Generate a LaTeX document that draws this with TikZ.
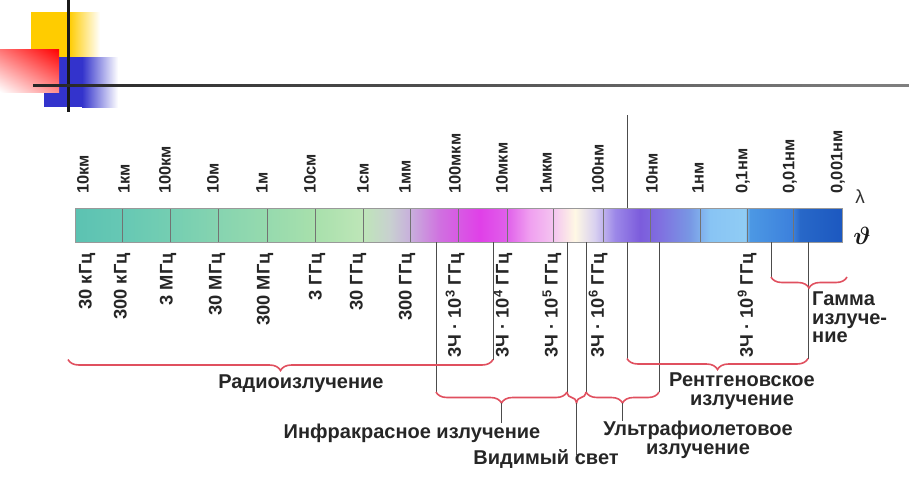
\documentclass[tikz,border=0pt]{standalone}
\usepackage{bm}
\usepackage{fontspec}
\setmainfont{Liberation Sans}
\usepackage{tikz}
\usetikzlibrary{
  positioning, calc, shadings, decorations.pathreplacing
}
\definecolor{decoYellow}{HTML}{FFCC00}
\definecolor{decoBlue}{HTML}{3333CC}
\definecolor{braceRed}{HTML}{E0505F}
% colour stops of the spectrum bar (named by x)
\definecolor{sp75}{HTML}{5CC2B2}
\definecolor{sp122}{HTML}{66C8B4}
\definecolor{sp170}{HTML}{74CEB2}
\definecolor{sp218}{HTML}{86D4B0}
\definecolor{sp267}{HTML}{96DAAE}
\definecolor{sp315}{HTML}{A8E0AC}
\definecolor{sp363}{HTML}{BEE6B8}
\definecolor{sp390}{HTML}{C8D0D0}
\definecolor{sp410}{HTML}{C8B0DC}
\definecolor{sp440}{HTML}{D070E0}
\definecolor{sp480}{HTML}{E040E8}
\definecolor{sp507}{HTML}{E060EA}
\definecolor{sp530}{HTML}{F0A0F0}
\definecolor{sp553}{HTML}{F4C4F0}
\definecolor{sp575}{HTML}{FFF8E4}
\definecolor{sp595}{HTML}{D8D0F0}
\definecolor{sp615}{HTML}{9C88E8}
\definecolor{sp640}{HTML}{7C5CDC}
\definecolor{sp660}{HTML}{8070E0}
\definecolor{sp690}{HTML}{7898E4}
\definecolor{sp710}{HTML}{88C4F4}
\definecolor{sp745}{HTML}{90CCF4}
\definecolor{sp750}{HTML}{4C98E4}
\definecolor{sp793}{HTML}{3C80DC}
\definecolor{sp800}{HTML}{2868C8}
\definecolor{sp842}{HTML}{1C58C0}
\tikzset{
	lamtext/.style={font=\fontsize{16.5}{18}\selectfont\bfseries, text=black!85, rotate=90, anchor=west, inner sep=0pt}
}
\tikzset{
	freqtext/.style={font=\fontsize{18.3}{20}\selectfont\bfseries, text=black!85, rotate=90, anchor=east, inner sep=0pt}
}
\tikzset{
	bandtext/.style={font=\fontsize{20}{18.5}\selectfont\bfseries, text=black!85, align=center, inner sep=0pt},
	bandbrace/.style={draw=braceRed, line width=1.6pt, decorate, decoration={brace, mirror, amplitude=11pt}},
	tickline/.style={draw=black!70, line width=1pt}
}
\newcommand{\ghz}[1]{3Ч · 10\textsuperscript{#1} ГГц}

\begin{document}
\begin{tikzpicture}[x=1pt, y=-1pt]
      \useasboundingbox (0,0) rectangle (909,480);
      % corner squares and rules
      \fill[decoYellow] (31,12) rectangle (69,57);
      \shade[left color=decoYellow, right color=white] (69,12) rectangle (100,57);
      \fill[decoBlue] (44,57) rectangle (82,107);
      \shade[left color=decoBlue, right color=white] (82,57) rectangle (118,107);
      \shade[upper left=red!55, upper right=red, lower left=white, lower right=red!45] (0,49) rectangle (59,92);
      \fill[black!90] (67,0) rectangle (69.5,112);
      \shade[left color=black!85, right color=black!50] (33,84) rectangle (909,86.5);
      % spectrum bar
      \foreach \x [remember=\x as \px (initially 75)] in {122,170,218,267,315,363,390,410,440,480,507,530,553,575,595,615,640,660,690,710,745,750,793,800,842}
        \shade[left color=sp\px, right color=sp\x] (\px,208) rectangle (\x,242);
      \foreach \x in {122,170,218,267,315,363,410,458,507,553,603,650,700,747,793}
        \draw[black!55, line width=0.9pt] (\x,208) -- (\x,242);
      \draw[black!40, line width=0.8pt] (75,208) rectangle (842,242);
      % wavelengths
      \foreach \x/\t [count=\i] in {83/10км, 124/1км, 165/100км, 213/10м, 262/1м, 310/10см, 363/1см, 405/1мм, 455/100мкм, 502/10мкм, 546/1мкм, 598/100нм, 652/10нм, 698/1нм, 743/{0,1нм}, 790/{0,01нм}, 838/{0,001нм}}
        \node[lamtext] (lam\i) at (\x,194) {\t};
      \node[font=\fontsize{19}{19}\selectfont, text=black!80] (lambda) at (860,197) {λ};
      \node[font=\fontsize{26}{26}\selectfont, text=black!90] (nu) at (862,236) {$\bm{\vartheta}$};
      % frequencies
      \foreach \x/\t [count=\i] in {87/30 кГц, 122/300 кГц, 168/3 МГц, 217/30 МГц, 265/300 МГц, 317/3 ГГц, 358/30 ГГц, 407/300 ГГц, 455/\ghz{3}, 503/\ghz{4}, 552/\ghz{5}, 598/\ghz{6}, 747/\ghz{9}}
        \node[freqtext] (frq\i) at (\x,253) {\t};
      % ticks down to the braces
      \draw[tickline] (627,115) -- (627,208);
      \foreach \x/\y in {436/392, 493/359.5, 567/392, 586/392, 627/358.5, 659/392, 771/277, 808/358.5}
        \draw[tickline] (\x,242) -- (\x,\y);
      % braces
      \draw[bandbrace] (68,359.5) -- (493,359.5);
      \draw[bandbrace] (436,392) -- (567,392);
      \draw[bandbrace] (567,392) -- (586,392);
      \draw[bandbrace] (586,392) -- (659,392);
      \draw[bandbrace] (627,358.5) -- (808,358.5);
      \draw[bandbrace] (771,277) -- (847,277);
      \coordinate (ir-tip) at (501.5,403);
      \coordinate (vis-tip) at (576.5,403);
      \coordinate (uv-tip) at (622.5,403);
      % band names
      \node[bandtext] (radio) at (301,384) {Радиоизлучение};
      \node[bandtext] (ir) at (412,433) {Инфракрасное излучение};
      \node[bandtext] (vis) at (546,459) {Видимый свет};
      \node[bandtext] (uv) at (698,440) {Ультрафиолетовое\\излучение};
      \node[bandtext] (xray) at (742,391) {Рентгеновское\\излучение};
      \node[bandtext, align=left, anchor=north west] (gamma) at (812,292) {Гамма\\излуче-\\ние};
      \draw[tickline] (ir-tip) -- (ir.north -| ir-tip);
      \draw[tickline] (vis-tip) -- ($(vis.north -| vis-tip)+(0,6)$);
      \draw[tickline] (uv-tip) -- (uv.north -| uv-tip);
    \end{tikzpicture}
\end{document}
